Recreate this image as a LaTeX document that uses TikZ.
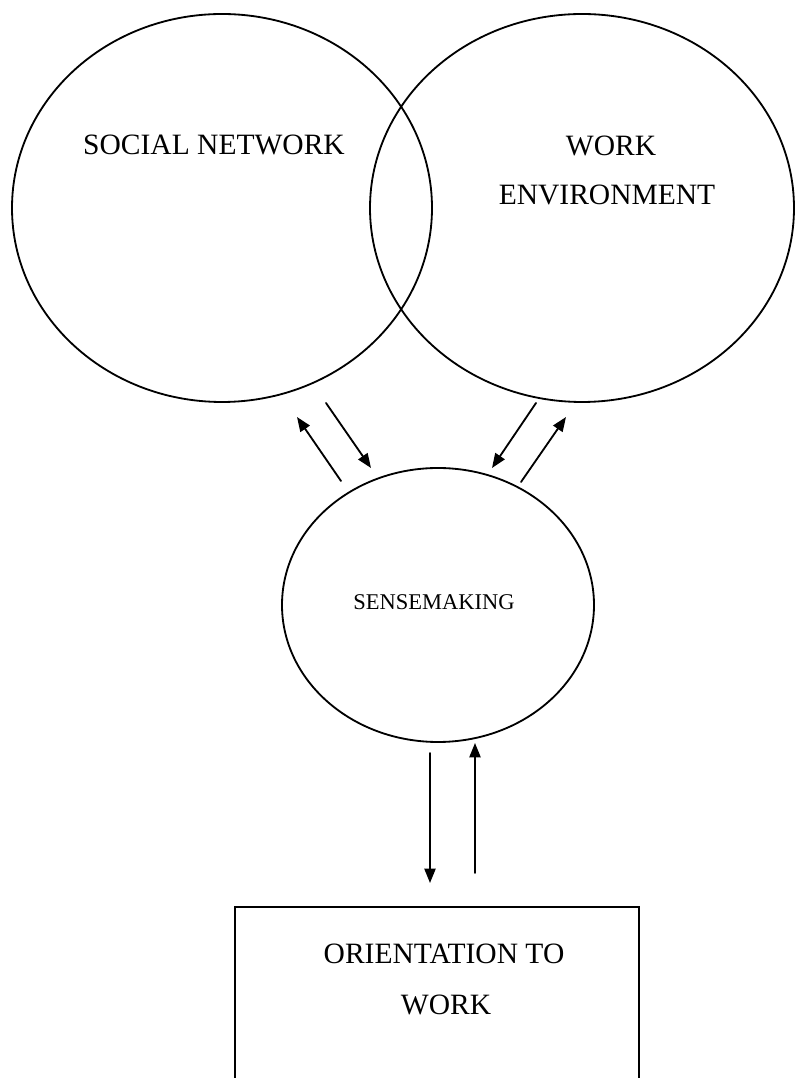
\documentclass[tikz,border=0pt]{standalone}
\usepackage{fontspec}
\setmainfont{Liberation Serif}
\usepackage{tikz}
\usetikzlibrary{arrows.meta,shapes.geometric}

\begin{document}
\begin{tikzpicture}[>={Triangle[length=3.6mm,width=2.8mm]},line width=1.3pt,line cap=round,
  bubble/.style={draw,ellipse,inner sep=0pt},
  big/.style={font=\fontsize{21}{35}\selectfont,anchor=base},
  small/.style={font=\fontsize{16}{20}\selectfont}]
\useasboundingbox (0,0) rectangle (19.925,26.95);
\clip (0,0) rectangle (19.925,26.95);
% the three areas
\node[bubble,minimum width=10.5cm,minimum height=9.7cm] (social) at (5.55,21.75) {};
\node[bubble,minimum width=10.6cm,minimum height=9.7cm] (work) at (14.55,21.75) {};
\node[bubble,minimum width=7.8cm,minimum height=6.85cm] (sense) at (10.95,11.825) {};
\node[draw,rectangle,minimum width=10.1cm,minimum height=5.2cm] (orient) at (10.925,1.675) {};
% labels
\node[big] (socialtxt) at (5.35,23.075) {SOCIAL NETWORK};
\node[big] (worktxt) at (15.275,23.05) {WORK};
\node[big] (envtxt) at (15.175,21.825) {ENVIRONMENT};
\node[small] (sensetxt) at (10.85,11.9) {SENSEMAKING};
\node[big] (orienttxt) at (11.1,2.85) {ORIENTATION TO};
\node[big] (orientwork) at (11.15,1.575) {WORK};
% arrow ends
\coordinate (sn1) at (8.525,14.925);
\coordinate (sn2) at (7.425,16.525);
\coordinate (sn3) at (8.15,16.875);
\coordinate (sn4) at (9.275,15.25);
\coordinate (we1) at (13.4,16.875);
\coordinate (we2) at (12.3,15.25);
\coordinate (we3) at (13.025,14.9);
\coordinate (we4) at (14.15,16.525);
\coordinate (ow1) at (10.75,8.125);
\coordinate (ow2) at (10.75,4.875);
\coordinate (ow3) at (11.875,5.125);
\coordinate (ow4) at (11.875,8.375);
\draw[->] (sn1) -- (sn2);
\draw[->] (sn3) -- (sn4);
\draw[->] (we1) -- (we2);
\draw[->] (we3) -- (we4);
\draw[->] (ow1) -- (ow2);
\draw[->] (ow3) -- (ow4);
\end{tikzpicture}
\end{document}
